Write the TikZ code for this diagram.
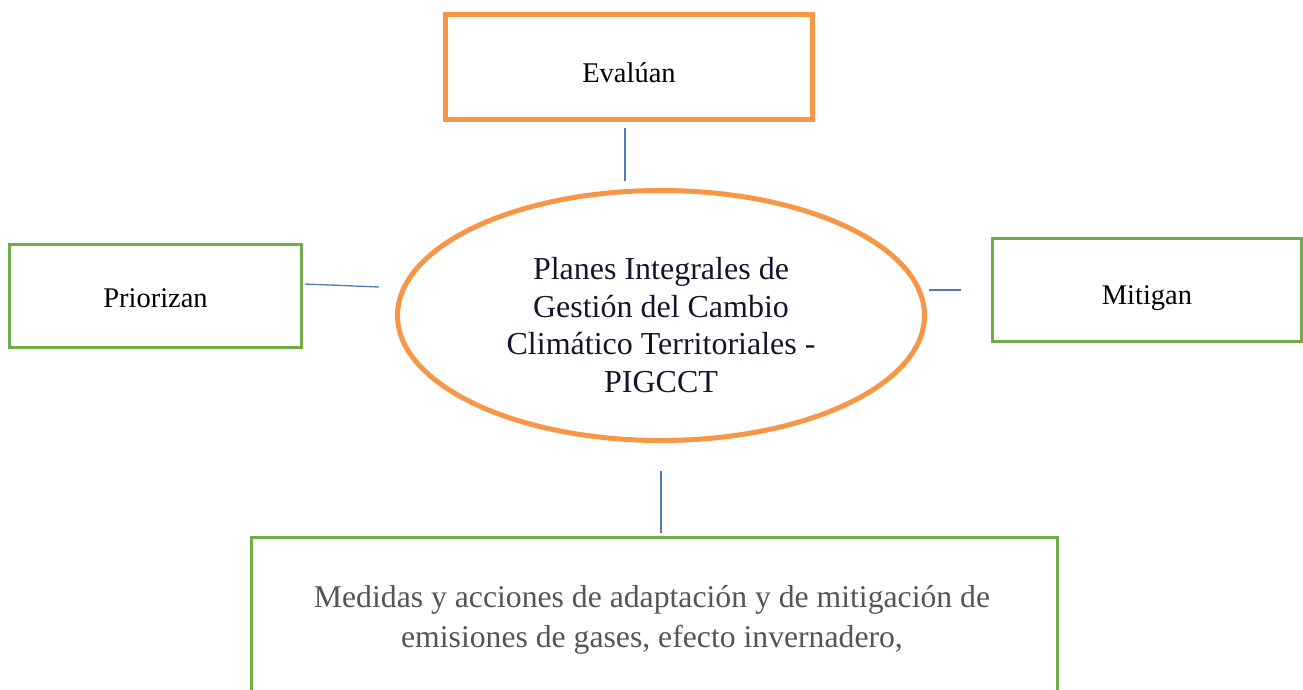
\documentclass[tikz,border=0pt]{standalone}
\usepackage{fontspec}
\setmainfont{Liberation Serif}
\usetikzlibrary{shapes.geometric,calc}
\definecolor{boxorange}{HTML}{F79646}
\definecolor{boxgreen}{HTML}{70AD47}
\definecolor{linkblue}{HTML}{4A7EBB}
\definecolor{inknavy}{HTML}{14142E}
\definecolor{inkgray}{HTML}{555555}
\tikzset{
  orangebox/.style = {draw=boxorange, line width=5pt, minimum width=367pt,
                      minimum height=105pt, font=\fontsize{28.5}{34}\selectfont},
  greenbox/.style  = {draw=boxgreen, line width=3pt, minimum height=103pt,
                      font=\fontsize{28.5}{34}\selectfont},
  bigoval/.style   = {ellipse, draw=boxorange, line width=5pt, inner sep=0pt,
                      minimum width=527pt, minimum height=250pt},
  link/.style      = {linkblue, line width=1.3pt}
}

\begin{document}
\begin{tikzpicture}[x=1pt,y=-1pt]
  \useasboundingbox (0,0) rectangle (1303,690);
  \clip (0,0) rectangle (1303,690);
  % centre
  \node[bigoval] (pigcct) at (661,315.5) {};
  \node[align=center, text=inknavy, font=\fontsize{32}{37.5}\selectfont] (pigccttxt)
       at (661,325) {Planes Integrales de\\Gesti\'on del Cambio\\Clim\'atico Territoriales -\\PIGCCT};
  % boxes round it
  \node[orangebox, text height=32pt] (evaluan) at (629,67) {Eval\'uan};
  \node[greenbox, minimum width=292pt, text height=23pt] (priorizan) at (155.5,296) {Priorizan};
  \node[greenbox, minimum width=309pt, text height=35pt] (mitigan) at (1147,290) {Mitigan};
  \node[greenbox, minimum width=806pt, minimum height=220pt, anchor=north]
       (medidas) at (654.5,535.5) {};
  \node[align=center, text=inkgray, font=\fontsize{31.7}{40}\selectfont] (medidastxt)
       at (652,620) {Medidas y acciones de adaptaci\'on y de mitigaci\'on de\\
       emisiones de gases, efecto invernadero,};
  % links (short, not touching)
  \draw[link] ($(evaluan.south)+(-4,6)$) -- ($(evaluan.south |- pigcct.north)+(-4,-7)$);
  \draw[link] ($(priorizan.east)+(2,-12)$) -- ($(pigcct.west)+(-16,-28.5)$);
  \draw[link] ($(pigcct.east)+(2,-25.5)$) -- ($(mitigan.west)+(-30,0)$);
  \draw[link] ($(pigcct.south)+(0,28)$) -- ($(pigcct.south |- medidas.north)+(0,-3)$);
\end{tikzpicture}
\end{document}
